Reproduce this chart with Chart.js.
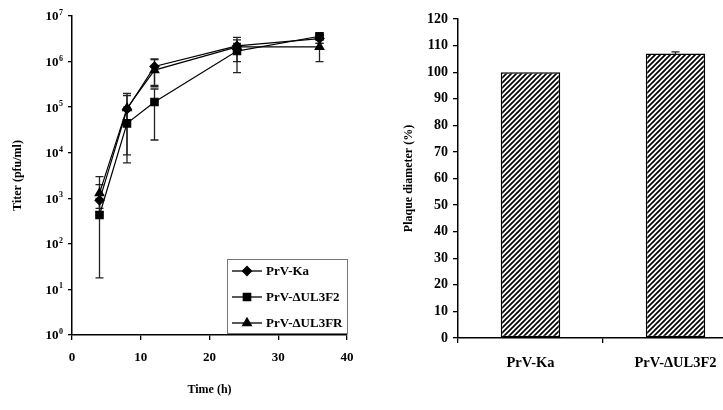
<!DOCTYPE html>
<html><head><meta charset="utf-8">
<script src="https://cdn.jsdelivr.net/npm/chart.js@4.4.1/dist/chart.umd.min.js"></script>
<style>
html,body{margin:0;background:#fff;overflow:hidden;width:723px;height:410px}
canvas{position:absolute;top:0}
#growth{left:0}
#plaque{left:380px}
</style></head>
<body>
<canvas id="growth" width="360" height="410"></canvas>
<canvas id="plaque" width="380" height="410"></canvas>
<script>
// growth curve data (pfu/ml)
const times = [4, 8, 12, 24, 36];
const kaTiter = [900, 90000, 780000, 2200000, 3200000];
const kaLow = [500, 40000, 280000, 1000000, 2500000];
const kaHigh = [2000, 200000, 1150000, 3000000, 3800000];
const f2Titer = [430, 44000, 130000, 1700000, 3600000];
const f2Low = [18, 9000, 19000, 570000, 2500000];
const f2High = [1000, 100000, 250000, 2500000, 3900000];
const frTiter = [1300, 95000, 650000, 2100000, 2100000];
const frLow = [600, 6000, 300000, 1500000, 1000000];
const frHigh = [3000, 180000, 1100000, 3400000, 3000000];
const seriesNames = ['PrV-Ka', 'PrV-\u0394UL3F2', 'PrV-\u0394UL3FR'];
const titerTicks = [1, 10, 100, 1000, 10000, 100000, 1000000, 10000000];
const titerExponents = ['0', '1', '2', '3', '4', '5', '6', '7'];

// plaque size data
const strains = ['PrV-Ka', 'PrV-\u0394UL3F2'];
const plaqueDiam = [100, 107];
const plaqueErr = [0, 0.6];

const FONT = 'Liberation Serif';
const bold = s => ({family: FONT, size: s, weight: 'bold'});

const errorBars = {
  id: 'errorBars',
  beforeDatasetsDraw(chart){
    const ctx = chart.ctx, ys = chart.scales.y;
    chart.data.datasets.forEach((ds, i) => {
      if(!ds.errLow) return;
      const meta = chart.getDatasetMeta(i);
      meta.data.forEach((el, j) => {
        const x = el.x, y1 = ys.getPixelForValue(ds.errLow[j]), y2 = ys.getPixelForValue(ds.errHigh[j]);
        if(Math.abs(y1 - y2) < 0.5) return;
        ctx.save();
        ctx.strokeStyle = ds.errColor || '#222'; ctx.lineWidth = 1.3;
        ctx.beginPath();
        ctx.moveTo(x, y1); ctx.lineTo(x, y2);
        ctx.moveTo(x - 4, y1); ctx.lineTo(x + 4, y1);
        ctx.moveTo(x - 4, y2); ctx.lineTo(x + 4, y2);
        ctx.stroke();
        ctx.restore();
      });
    });
  }
};

// power-of-ten labels with a real superscript
const powerLabels = {
  id: 'powerLabels',
  afterDraw(chart){
    const ctx = chart.ctx, ys = chart.scales.y, right = ys.right - 9;
    ctx.save();
    ctx.fillStyle = '#000';
    titerTicks.forEach((v, i) => {
      const y = ys.getPixelForValue(v);
      ctx.font = 'bold 8px ' + FONT; ctx.textAlign = 'right'; ctx.textBaseline = 'alphabetic';
      const ew = ctx.measureText(titerExponents[i]).width;
      ctx.fillText(titerExponents[i], right, y - 1);
      ctx.font = 'bold 13px ' + FONT; ctx.textBaseline = 'middle';
      ctx.fillText('10', right - ew - 0.5, y + 1);
    });
    ctx.restore();
  }
};

const boxLegend = {
  id: 'boxLegend',
  afterDraw(chart){
    const ctx = chart.ctx;
    const x0 = 227, y0 = 259, w = 120, h = 74;
    ctx.save();
    ctx.fillStyle = '#fff'; ctx.fillRect(x0, y0, w, h);
    ctx.strokeStyle = '#777'; ctx.lineWidth = 1; ctx.strokeRect(x0 + 0.5, y0 + 0.5, w, h);
    chart.data.datasets.forEach((ds, i) => {
      const y = 271 + i * 26;
      ctx.strokeStyle = '#000'; ctx.lineWidth = 1.3;
      ctx.beginPath(); ctx.moveTo(232, y); ctx.lineTo(262, y); ctx.stroke();
      ctx.fillStyle = '#000';
      Chart.helpers.drawPoint(ctx, {pointStyle: ds.pointStyle, radius: ds.pointRadius, borderWidth: 1}, 247, y);
      ctx.fillStyle = '#000';
      ctx.font = 'bold 13px ' + FONT; ctx.textBaseline = 'middle';
      ctx.fillText(ds.label, 266, y + 1);
    });
    ctx.restore();
  }
};

const mkSeries = (label, data, lo, hi, style, r) => ({
  label, data: times.map((t, i) => ({x: t, y: data[i]})), errLow: lo, errHigh: hi,
  borderColor: '#000', backgroundColor: '#000', borderWidth: 1.2,
  pointStyle: style, pointRadius: r, pointBackgroundColor: '#000', pointBorderColor: '#000'
});

new Chart(document.getElementById('growth'), {
  type: 'line',
  data: {datasets: [
    mkSeries(seriesNames[0], kaTiter, kaLow, kaHigh, 'rectRot', 4.5),
    mkSeries(seriesNames[1], f2Titer, f2Low, f2High, 'rect', 5.2),
    mkSeries(seriesNames[2], frTiter, frLow, frHigh, 'triangle', 5)
  ]},
  options: {
    responsive: false, animation: false, devicePixelRatio: 1,
    layout: {padding: {left: 0, top: 16, right: 13, bottom: 0}},
    plugins: {legend: {display: false}, tooltip: {enabled: false}},
    scales: {
      x: {
        type: 'linear', min: 0, max: 40,
        ticks: {stepSize: 10, color: '#000', font: bold(13), padding: 10},
        grid: {drawOnChartArea: false, tickLength: 5, color: '#000', lineWidth: 1.3},
        border: {color: '#000', width: 1.5},
        title: {display: true, text: 'Time (h)', color: '#000', font: bold(12), padding: {top: 0, bottom: 13}},
        afterFit: s => { s.height = 75; s.paddingLeft = 0; s.paddingRight = 0; }
      },
      y: {
        type: 'logarithmic', min: 1, max: 10000000,
        afterBuildTicks: s => { s.ticks = titerTicks.map(v => ({value: v})); },
        ticks: {color: '#000', font: bold(13), padding: 3, callback: () => ''},
        grid: {drawOnChartArea: false, tickLength: 4, color: '#000', lineWidth: 1.3},
        border: {color: '#000', width: 1.5},
        title: {display: true, text: 'Titer (pfu/ml)', color: '#000', font: bold(12), padding: {top: 11, bottom: 0}},
        afterFit: s => { s.width = 72; s.paddingTop = 0; s.paddingBottom = 0; }
      }
    }
  },
  plugins: [errorBars, powerLabels, boxLegend]
});

// hatch fill for bars
const hatch = (() => {
  const n = 5;
  const c = document.createElement('canvas');
  c.width = n; c.height = n;
  const g = c.getContext('2d');
  g.fillStyle = '#fff'; g.fillRect(0, 0, n, n);
  g.strokeStyle = '#000'; g.lineWidth = 1.7;
  g.beginPath();
  g.moveTo(0, n); g.lineTo(n, 0);
  g.moveTo(-n, n); g.lineTo(n, -n);
  g.moveTo(0, 2 * n); g.lineTo(2 * n, 0);
  g.stroke();
  return document.getElementById('plaque').getContext('2d').createPattern(c, 'repeat');
})();

new Chart(document.getElementById('plaque'), {
  type: 'bar',
  data: {labels: strains, datasets: [{
    data: plaqueDiam,
    errLow: plaqueDiam.map((v, i) => v - plaqueErr[i]),
    errHigh: plaqueDiam.map((v, i) => v + plaqueErr[i]),
    backgroundColor: hatch, borderColor: '#000', borderWidth: 1.5, borderSkipped: false,
    barPercentage: 0.41, categoryPercentage: 1
  }]},
  options: {
    responsive: false, animation: false, devicePixelRatio: 1,
    layout: {padding: {left: 0, top: 19, right: 12, bottom: 0}},
    plugins: {legend: {display: false}, tooltip: {enabled: false}},
    scales: {
      x: {
        ticks: {color: '#000', font: bold(14.5), padding: 12},
        grid: {drawOnChartArea: false, offset: true, tickLength: 5, color: '#000', lineWidth: 1.3},
        border: {color: '#000', width: 1.5},
        afterFit: s => { s.height = 72; }
      },
      y: {
        min: 0, max: 120,
        ticks: {stepSize: 10, color: '#000', font: bold(14), padding: 5},
        grid: {drawOnChartArea: false, tickLength: 5, color: '#000', lineWidth: 1.3},
        border: {color: '#000', width: 1.5},
        title: {display: true, text: 'Plaque diameter (%)', color: '#000', font: bold(12), padding: {top: 22, bottom: 0}},
        afterFit: s => { s.width = 78; }
      }
    }
  },
  plugins: [errorBars]
});
</script>
</body></html>
